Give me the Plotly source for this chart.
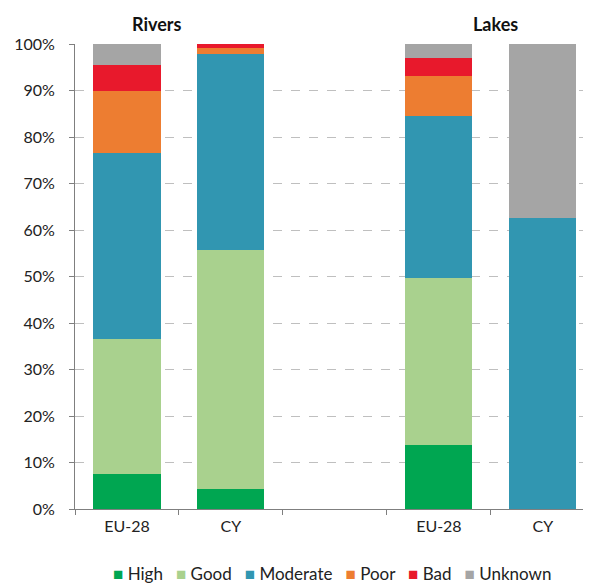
import plotly.graph_objects as go

categories = ["EU-28", "CY", "", "EU-28", "CY"]
positions = [0, 1, 2, 3, 4]
high = [7.5, 4.2, None, 13.8, 0]
good = [29.0, 51.5, None, 35.8, 0]
moderate = [40.0, 42.1, None, 35.0, 62.5]
poor = [13.3, 1.4, None, 8.5, 0]
bad = [5.7, 0.8, None, 3.9, 0]
unknown = [4.5, 0, None, 3.0, 37.5]
group_titles = ["Rivers", "Lakes"]
yticks = [0, 10, 20, 30, 40, 50, 60, 70, 80, 90, 100]

series = [
    ("High", high, "#00a651"),
    ("Good", good, "#a9d18e"),
    ("Moderate", moderate, "#3196b1"),
    ("Poor", poor, "#ed7d31"),
    ("Bad", bad, "#e8192c"),
    ("Unknown", unknown, "#a5a5a5"),
]

fig = go.Figure()
for name, vals, col in series:
    fig.add_trace(go.Bar(
        x=positions, y=vals, name=name, marker=dict(color=col, line=dict(width=0)),
        width=0.645, showlegend=False,
    ))

fig.update_layout(
    barmode="stack",
    width=591, height=587,
    margin=dict(l=67, r=0, t=36, b=86),
    paper_bgcolor="white", plot_bgcolor="white",
    font=dict(family="Lato, 'Open Sans', sans-serif", size=16, color="#222"),
    showlegend=False,
    xaxis=dict(
        range=[-0.5, 4.54], tickvals=[0, 1, 3, 4],
        ticktext=[categories[i] for i in [0, 1, 3, 4]],
        showgrid=False, zeroline=False, showline=True, linecolor="#7f7f7f", linewidth=1,
        ticks="", ticklabelstandoff=3,
        minor=dict(tick0=0.5, dtick=1, ticks="outside", ticklen=5, tickcolor="#7f7f7f", showgrid=False),
    ),
    yaxis=dict(
        range=[0, 100], tickvals=yticks, ticktext=[f"{v}%" for v in yticks],
        showgrid=True, gridcolor="#bfbfbf", griddash="dash", gridwidth=1,
        zeroline=False, showline=True, linecolor="#7f7f7f", linewidth=1,
        ticks="outside", ticklen=5, tickcolor="#7f7f7f", ticklabelstandoff=11,
    ),
)

fig.add_annotation(text="<b>" + group_titles[0] + "</b>", x=0.29, xref="x", y=1.0, yref="paper",
                   yanchor="bottom", yshift=7, showarrow=False, font=dict(size=18, color="#111"))
fig.add_annotation(text="<b>" + group_titles[1] + "</b>", x=3.54, xref="x", y=1.0, yref="paper",
                   yanchor="bottom", yshift=7, showarrow=False, font=dict(size=18, color="#111"))

legend_text = "&nbsp;&nbsp;&nbsp;".join(
    f'<span style="color:{col}">■</span> {name}' for name, _, col in series
)
fig.add_annotation(text=legend_text, x=0.49, xref="paper", y=0, yref="paper",
                   yanchor="middle", xanchor="center", yshift=-64, showarrow=False,
                   font=dict(size=17, color="#222"))

fig.write_html("out.html")
